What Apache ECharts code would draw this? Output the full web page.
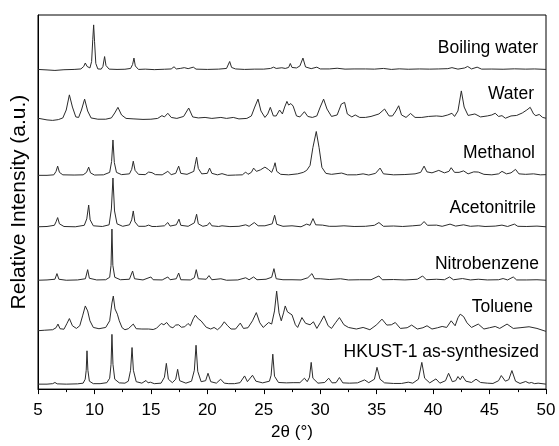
<!DOCTYPE html>
<html>
<head>
<meta charset="utf-8">
<script src="https://cdn.jsdelivr.net/npm/echarts@6/dist/echarts.min.js"></script>
<style>html,body{margin:0;padding:0;background:#fff}#c{width:559px;height:446px}</style>
</head>
<body>
<div id="c"></div>
<script>
// Sample names (top to bottom) and vertical stacking offsets (a.u.)
const sampleNames = ["Boiling water", "Water", "Methanol", "Acetonitrile", "Nitrobenzene", "Toluene", "HKUST-1 as-synthesized"];
const offsets = [323, 273, 216, 164, 110, 59, 5];
const xTicks = [5, 10, 15, 20, 25, 30, 35, 40, 45, 50];

// Patterns: [2θ (°), relative intensity above own baseline]
const boilingWater = [[5,0],[5.8,-0.5],[6.5,-1],[7.3,-0.3],[8.2,0],[8.8,0.5],[9.05,3],[9.19,6.5],[9.35,3],[9.6,1.5],[9.75,8],[9.85,30],[9.93,45],[10.01,28],[10.12,6],[10.3,0.5],[10.6,0.3],[10.75,3],[10.9,13],[11.02,4],[11.3,0.3],[12,0],[12.7,0.2],[13.2,1],[13.38,5],[13.5,11.5],[13.62,3.5],[13.9,0],[14.5,0.3],[15.3,-0.2],[16.2,0.2],[16.8,0.5],[17.05,2.7],[17.25,0.5],[17.6,1],[17.96,1.8],[18.3,0.8],[18.76,2.3],[19,0.3],[20,0],[21,0.3],[21.7,1],[21.98,8],[22.15,2],[22.5,0.5],[23.3,0],[24.2,0.3],[25,0.3],[25.6,1],[25.87,2.3],[26.1,1],[26.6,1.7],[26.9,1],[27.2,2],[27.35,6],[27.5,2],[27.9,1.5],[28.2,3.5],[28.47,11.5],[28.7,2.5],[29.2,0.8],[29.7,2.3],[30,0.5],[30.8,0.5],[31.5,1.2],[32.2,0.3],[33,0.5],[34,0.5],[34.8,0.3],[35.6,1],[36.3,0],[37,0.6],[37.8,0.2],[38.8,0.5],[39.7,0.3],[40.5,0.5],[41.3,0.8],[41.67,1.8],[42.2,0.3],[42.8,1.5],[43.06,3],[43.4,0.5],[43.9,2.3],[44.3,0.3],[45.2,0.4],[46.2,0.2],[47.2,0.6],[48.2,0.3],[49,0.5],[50,0]];

const water = [[5,0.7],[5.8,-1],[6.3,-1.5],[6.8,-0.7],[7.2,1],[7.5,9],[7.78,24.3],[8.05,12],[8.35,2],[8.6,1.5],[8.85,9],[9.13,20],[9.4,8],[9.7,1],[10.3,-0.3],[11,-0.3],[11.5,1],[11.8,6],[12.08,11.7],[12.4,4],[12.8,0.5],[13.5,0],[14.3,-0.5],[15,-0.3],[15.6,0.5],[15.98,3.3],[16.2,2],[16.5,5.7],[16.8,1.5],[17.3,0.5],[17.9,2.5],[18.35,11],[18.7,2],[19.2,1],[19.8,1.5],[20.4,0.5],[21.2,1.5],[21.7,0.5],[22.3,1.5],[22.8,0],[23.5,0.5],[23.9,3],[24.2,12],[24.49,20],[24.75,8],[25.1,1.5],[25.35,5],[25.58,11.7],[25.85,3],[26.1,3],[26.4,9],[26.65,5],[26.85,12],[27.05,17.7],[27.2,14],[27.4,15.5],[27.6,13],[27.9,3],[28.2,2],[28.6,7.3],[28.9,2.5],[29.3,1.5],[29.7,3],[30.0,12],[30.3,20],[30.6,10],[31.0,2.5],[31.5,4],[31.87,15],[32.16,16.7],[32.4,5],[32.8,2],[33.1,4],[33.5,1.5],[34.0,1.5],[34.5,2.5],[35.2,5],[35.7,10],[36.1,3],[36.4,3],[36.7,8],[36.95,13.3],[37.2,4],[37.6,1.5],[38.0,5.5],[38.4,1.5],[39,1.5],[39.6,2.5],[40.3,3],[40.8,2.5],[41.3,4],[41.67,5.7],[41.9,2.5],[42.2,8],[42.5,28.3],[42.75,12],[43.1,3.5],[43.7,5],[44.2,2],[44.8,3],[45.2,4],[45.5,5.7],[45.8,2.5],[46.1,3.3],[46.4,0.7],[46.9,3],[47.4,3.5],[47.9,6],[48.3,9],[48.6,11.7],[48.9,5],[49.1,3.3],[49.4,4.5],[49.7,1.5],[50,0.7]];

const methanol = [[5,0],[5.8,0],[6.4,0.5],[6.6,4],[6.74,9.3],[6.9,3],[7.2,0.5],[8.2,0.3],[9.0,0.5],[9.3,3],[9.49,8.3],[9.65,2.5],[10,0.3],[10.8,0.5],[11.35,3],[11.52,14],[11.64,35.7],[11.76,13],[11.95,3],[12.4,0.7],[13.1,1.5],[13.3,6],[13.44,14.3],[13.6,5],[13.9,1],[14.5,0.7],[14.8,3.3],[14.95,1.5],[15.1,2.7],[15.4,0.7],[16,0.5],[16.5,4],[16.8,0.7],[17.2,2],[17.46,9.3],[17.65,2],[18.2,1],[18.8,4],[18.92,11],[19.05,18.3],[19.2,7],[19.5,1.5],[20.0,2],[20.2,7.3],[20.4,2],[20.9,0.5],[21.3,1.7],[21.8,0],[22.5,0.3],[23.1,0.5],[23.4,3.3],[23.6,1],[23.9,3],[24.1,7.3],[24.35,4],[24.7,5.5],[25.1,8.3],[25.4,6],[25.7,3],[25.88,8],[26.0,12.7],[26.15,4],[26.5,1],[27.2,0.5],[28,1.5],[28.5,3],[28.8,5],[29.1,10],[29.35,28],[29.65,44.3],[29.9,28],[30.15,8],[30.5,2],[31,1],[31.9,2.3],[32.4,0.5],[33.2,0.5],[33.8,1.5],[34.3,0.3],[34.9,2],[35.3,7.3],[35.6,1.5],[36.5,0.5],[37.5,0.8],[38.4,1.5],[38.9,3],[39.2,9.3],[39.45,3.5],[39.9,2.5],[40.5,5],[41,2.5],[41.4,4],[41.6,7.7],[41.9,3],[42.3,3],[42.7,4.5],[43.1,1.5],[43.6,3.5],[44.0,3.3],[44.5,1],[45.2,0.5],[45.8,1.5],[46.1,4],[46.5,1.5],[46.9,2.5],[47.3,6],[47.6,1.5],[48.2,1],[48.9,1.5],[49.5,0.5],[50,0.7]];

const acetonitrile = [[5,0],[5.8,0.3],[6.45,1.5],[6.6,5],[6.74,9.3],[6.9,3],[7.3,0.3],[8.3,0],[9.1,1.5],[9.32,8],[9.49,22],[9.62,7],[9.9,1],[10.7,0.3],[11.3,2],[11.5,18],[11.64,49.3],[11.78,16],[12,3],[12.5,0.5],[13.1,2],[13.3,7],[13.44,16],[13.58,5],[13.9,0.5],[14.5,0.5],[14.8,1.7],[15.1,0.3],[15.5,0.3],[16.2,1],[16.5,4.3],[16.7,0.7],[17.25,2],[17.49,7.7],[17.65,1.5],[18.3,0.5],[18.85,4],[19.05,12.7],[19.2,3],[19.6,0.5],[20.0,1.5],[20.2,4.3],[20.4,1],[21.0,0.3],[21.3,1],[22,0.2],[22.8,0.5],[23.4,2],[23.7,0.5],[24.16,4.3],[24.5,1],[25.1,1],[25.75,3],[25.96,11.7],[26.15,2.5],[26.7,0.5],[27.5,1],[28.3,0],[28.8,2.7],[29.1,1.5],[29.36,8.3],[29.6,2],[30.2,1.7],[30.8,0.5],[31.4,0.5],[32.1,1],[33,0.3],[34,0.5],[34.8,1.5],[35.2,4.3],[35.6,0.5],[36.5,0.8],[37.3,0.3],[38.2,1],[38.9,1.7],[39.2,5.3],[39.5,1.5],[40.3,1.7],[40.8,0.5],[41.5,2.7],[42,0.7],[42.7,2],[43.3,0.5],[44,1],[44.6,0.3],[45.5,0.7],[46.1,1.7],[46.6,0.3],[47.2,2.7],[47.5,0.5],[48.3,0.3],[49.2,0.7],[50,0]];

const nitrobenzene = [[5,0],[5.8,0.3],[6.5,1],[6.68,6.7],[6.85,1],[7.5,0],[8.5,0.3],[9.2,1.5],[9.4,10.7],[9.55,2],[10.2,0.3],[11,0.5],[11.35,3],[11.47,15],[11.55,51.7],[11.63,15],[11.8,3],[12.3,0.5],[13.1,1],[13.38,9.3],[13.55,1.5],[14.3,0.3],[15.0,3.3],[15.2,0.5],[16,0.3],[16.5,3.3],[16.7,0.5],[17.25,1.5],[17.46,7.3],[17.65,0.5],[18.5,0.3],[18.85,2.5],[19.02,10.7],[19.2,1.5],[19.9,1],[20.15,4.7],[20.4,0.5],[21.2,1.5],[21.7,0],[22.7,0.3],[23.4,2.5],[23.7,0.5],[24.1,3.3],[24.4,0.5],[25.2,1],[25.7,3],[25.9,11.7],[26.1,1.5],[26.7,0.5],[27.5,0.5],[28.3,0.3],[28.9,2.5],[29.27,6.7],[29.5,1.5],[30,1.5],[30.8,0.7],[31.8,1.5],[32.5,0.3],[33.5,0.5],[34.5,0.5],[35.2,4.3],[35.5,0.5],[36.5,0.7],[37.5,0.3],[38.6,1],[39.07,4.3],[39.4,0.5],[40.3,1],[41,0.5],[41.46,3.3],[41.8,0.5],[42.6,1.7],[43.3,0.3],[44,1],[44.8,0.3],[45.8,0.5],[46.2,1.7],[46.6,0.3],[47.1,3.3],[47.4,0.3],[48.3,0.3],[49.2,0.5],[50,0]];

const toluene = [[5,0],[5.6,0.5],[6.3,1],[6.6,3],[6.77,6.7],[6.95,2],[7.3,1.5],[7.55,7],[7.78,12.3],[8.05,5],[8.4,2.3],[8.7,5],[8.95,15],[9.19,25],[9.4,20],[9.6,10],[9.9,3.3],[10.4,2],[11,3.3],[11.35,10],[11.55,28],[11.67,35],[11.82,22],[12.03,16.7],[12.2,10],[12.45,3],[12.7,1],[13.0,2],[13.44,6.7],[13.7,2],[14.2,1.7],[14.8,1.7],[15.2,1.2],[15.5,2.5],[15.92,7.3],[16.15,6],[16.4,8.3],[16.7,4],[16.95,3],[17.2,5.7],[17.46,6],[17.7,3.5],[18.0,4],[18.29,7.3],[18.5,5],[18.75,12],[18.94,15.7],[19.2,12],[19.44,10],[19.6,8.3],[19.9,3.5],[20.3,1.7],[20.6,3.3],[20.9,1],[21.2,4],[21.5,9],[21.8,5],[22.1,1.7],[22.5,1.7],[22.92,7.7],[23.2,2.3],[23.6,3],[24.0,10],[24.34,18.3],[24.65,8],[24.95,3.3],[25.43,8.3],[25.7,6.7],[25.95,20],[26.14,40],[26.35,18],[26.55,10],[26.75,18],[26.9,25],[27.1,19],[27.26,20],[27.5,16],[27.8,6],[28.0,3.3],[28.38,13.3],[28.7,7.5],[29.1,6],[29.4,9],[29.7,2.3],[30.0,8],[30.33,15],[30.7,5],[31.0,2.3],[31.35,8],[31.7,13.3],[32.1,6],[32.5,3.3],[33.2,1.7],[33.8,3.3],[34.4,1],[35.0,6],[35.47,11.7],[35.9,5.7],[36.3,6],[36.65,8.3],[37.1,2.3],[37.7,3],[38.1,5.7],[38.6,1.7],[39.1,3],[39.46,5],[39.9,1.7],[40.4,3],[40.8,4.3],[41.2,3.3],[41.6,10],[41.95,5],[42.2,13],[42.4,16.7],[42.7,14.3],[43.0,8],[43.4,3.3],[44.0,6.7],[44.5,1.7],[45.0,3],[45.5,4.3],[45.9,2.3],[46.55,6.7],[47.1,2.3],[47.7,3],[48.5,4],[49.2,2.3],[50,-0.7]];

const hkust = [[5,0],[5.8,0],[6.3,0.5],[6.5,1.7],[6.7,0.3],[7.5,0],[8.5,0.3],[9.0,1],[9.18,5],[9.27,14],[9.34,33.7],[9.42,14],[9.55,3],[9.9,0.5],[10.5,0.5],[11.1,1.5],[11.35,6],[11.47,20],[11.55,50.3],[11.64,20],[11.8,5],[12.2,1.3],[12.7,1],[13.0,3],[13.2,14],[13.33,37],[13.45,14],[13.7,2.5],[14.2,1],[14.57,3.7],[14.75,1.3],[14.95,2],[15.3,0.5],[15.9,1],[16.2,7],[16.37,21],[16.55,5],[16.9,1.5],[17.2,5],[17.37,15],[17.55,3.5],[18.1,1],[18.6,3],[18.85,14],[19.0,39.3],[19.15,13],[19.45,2.5],[19.85,3.5],[20.06,11],[20.3,2.5],[20.8,1],[21.18,5],[21.5,1],[21.9,0.5],[22.4,0.5],[22.9,1.5],[23.3,8.3],[23.55,2.5],[24.0,9],[24.3,3],[24.9,1.3],[25.5,3],[25.65,9],[25.8,30.3],[25.95,8],[26.3,1.7],[27.0,1.3],[27.6,1.5],[28.2,1.5],[28.6,6],[28.85,2.5],[29.05,7],[29.2,22],[29.35,6],[29.8,1],[30.4,1.7],[30.75,6],[31.05,1.3],[31.4,1.5],[31.7,6.7],[32.0,1.3],[32.6,1],[33.3,1.3],[33.93,4.3],[34.3,1.5],[34.8,5],[35.03,17],[35.3,5],[35.7,1.3],[36.5,0.7],[37.2,0.7],[37.8,2],[38.2,1],[38.7,5],[39.0,22],[39.25,6],[39.7,1.3],[40.25,5.3],[40.6,1],[41.1,3.5],[41.37,11],[41.7,2.5],[42.0,3.5],[42.2,7.7],[42.4,4.5],[42.6,8.3],[42.9,3],[43.4,1.7],[43.8,5],[44.2,1.7],[44.8,1],[45.3,0.7],[45.8,3.5],[46.04,8.7],[46.4,3],[46.7,4.5],[46.98,13.7],[47.3,3],[47.7,0.7],[48.2,2.7],[48.5,1],[48.7,1.7],[49.0,0.5],[49.3,1],[50,0]];

const patterns = [boilingWater, water, methanol, acetonitrile, nitrobenzene, toluene, hkust];

const chart = echarts.init(document.getElementById('c'), null, {renderer: 'canvas'});
const FONT = '"Liberation Sans", Arial, sans-serif';
const labelPos = [[538, 48], [534, 94], [535, 153], [536, 208], [539, 264], [533, 307], [539, 352]];

const series = patterns.map((p, i) => ({
  type: 'line',
  name: sampleNames[i],
  showSymbol: false,
  symbol: 'none',
  animation: false,
  lineStyle: {color: '#2b2b2b', width: 1},
  data: p.map(d => [d[0], d[1] + offsets[i]])
}));

chart.setOption({
  animation: false,
  backgroundColor: '#fff',
  grid: {left: 38, right: 13, top: 15, bottom: 53, show: true, borderColor: '#000', borderWidth: 1},
  xAxis: {
    type: 'value', min: 5, max: 50, interval: 5,
    name: '2θ (°)', nameLocation: 'middle', nameGap: 33,
    nameTextStyle: {fontFamily: FONT, fontSize: 17, color: '#000'},
    axisLine: {show: true, lineStyle: {color: '#000', width: 1}},
    axisTick: {show: true, inside: false, length: 5, lineStyle: {color: '#000'}},
    minorTick: {show: true, splitNumber: 2, length: 3, lineStyle: {color: '#000'}},
    axisLabel: {fontFamily: FONT, fontSize: 17, color: '#000', margin: 13,
      formatter: v => xTicks.includes(v) ? String(v) : ''},
    splitLine: {show: false}
  },
  yAxis: {
    type: 'value', min: 0, max: 378,
    name: 'Relative Intensity (a.u.)', nameLocation: 'middle', nameGap: 8,
    nameTextStyle: {fontFamily: FONT, fontSize: 21, color: '#000'},
    axisLine: {show: true, lineStyle: {color: '#000', width: 1}},
    axisTick: {show: false}, axisLabel: {show: false}, splitLine: {show: false}
  },
  graphic: sampleNames.map((n, i) => ({
    type: 'text', x: labelPos[i][0], y: labelPos[i][1],
    style: {text: n, fontFamily: FONT, fontSize: 17.5, fill: '#000', align: 'right', verticalAlign: 'middle'}
  })),
  series: series
});
</script>
</body>
</html>
